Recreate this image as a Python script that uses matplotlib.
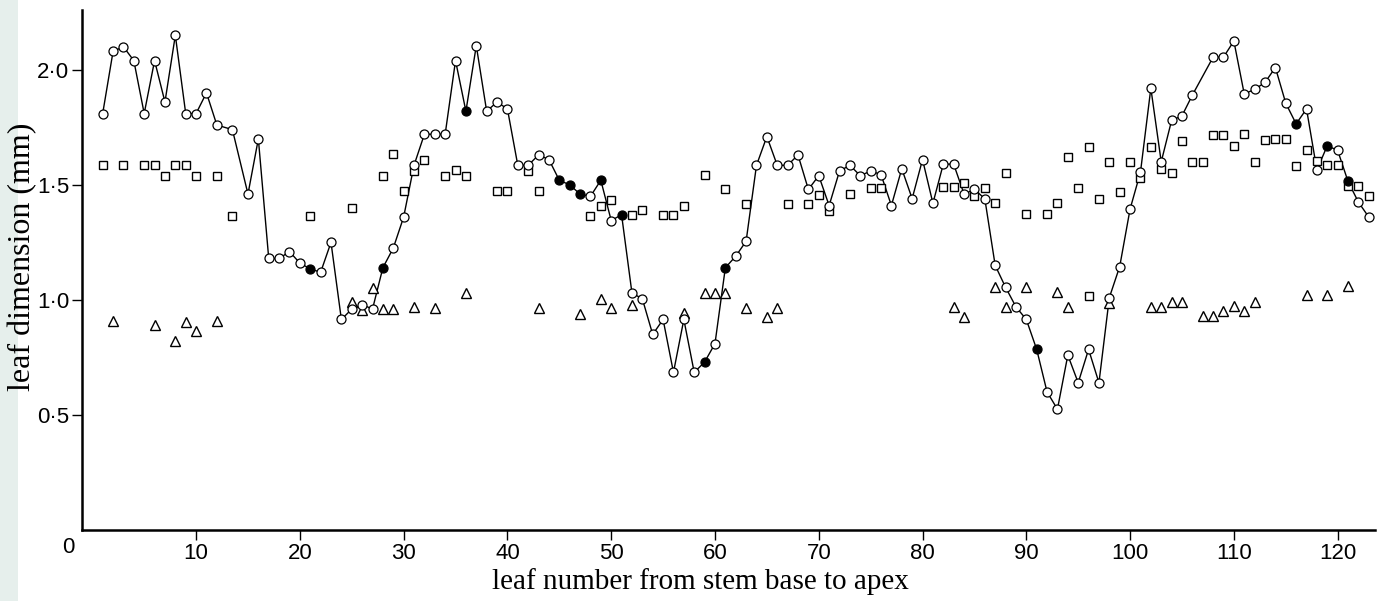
import matplotlib
matplotlib.use("Agg")
import matplotlib.pyplot as plt
import numpy as np

# leaf numbers and dimensions
circle_x = [1, 2, 3, 4, 5, 6, 7, 8, 9, 10, 11, 12, 13.5, 15, 16, 17, 18, 19, 20, 21,
            22, 23, 24, 25, 26, 27, 28, 29, 30, 31, 32, 33, 34, 35, 36, 37, 38, 39, 40,
            41, 42, 43, 44, 45, 46, 47, 48, 49, 50, 51, 52, 53, 54, 55, 56, 57, 58, 59,
            60, 61, 62, 63, 64, 65, 66, 67, 68, 69, 70, 71, 72, 73, 74, 75, 76, 77, 78,
            79, 80, 81, 82, 83, 84, 85, 86, 87, 88, 89, 90, 91, 92, 93, 94, 95, 96, 97,
            98, 99, 100, 101, 102, 103, 104, 105, 106, 108, 109, 110, 111, 112, 113,
            114, 115, 116, 117, 118, 119, 120, 121, 122, 123]
circle_y = [1.81, 2.08, 2.10, 2.04, 1.81, 2.04, 1.86, 2.15, 1.81, 1.81, 1.90, 1.76, 1.74,
            1.46, 1.70, 1.18, 1.18, 1.21, 1.16, 1.135, 1.12, 1.25, 0.915, 0.96, 0.98,
            0.96, 1.14, 1.225, 1.36, 1.585, 1.72, 1.72, 1.72, 2.04, 1.82, 2.105, 1.82,
            1.86, 1.83, 1.585, 1.585, 1.63, 1.61, 1.52, 1.50, 1.46, 1.45, 1.52, 1.345,
            1.37, 1.03, 1.005, 0.85, 0.915, 0.685, 0.915, 0.685, 0.73, 0.81, 1.14, 1.19,
            1.255, 1.585, 1.71, 1.585, 1.585, 1.63, 1.48, 1.54, 1.41, 1.56, 1.585, 1.54,
            1.56, 1.545, 1.41, 1.57, 1.44, 1.61, 1.42, 1.59, 1.59, 1.46, 1.48, 1.44,
            1.15, 1.055, 0.97, 0.915, 0.785, 0.60, 0.525, 0.76, 0.64, 0.785, 0.64, 1.01,
            1.145, 1.395, 1.555, 1.92, 1.60, 1.78, 1.80, 1.89, 2.055, 2.055, 2.125,
            1.895, 1.915, 1.945, 2.01, 1.855, 1.765, 1.83, 1.565, 1.67, 1.65, 1.515,
            1.425, 1.36]
filled_leaves = [21, 28, 36, 45, 46, 47, 49, 51, 59, 61, 91, 116, 119, 121]

square_x = [1, 3, 5, 6, 7, 8, 9, 10, 12, 13.5, 21, 25, 28, 29, 30, 31, 32, 34, 35, 36,
            39, 40, 42, 43, 48, 49, 50, 52, 53, 55, 56, 57, 59, 61, 63, 67, 69, 70, 71,
            73, 75, 76, 82, 83, 84, 85, 86, 87, 88, 90, 92, 93, 94, 95, 96, 96, 97, 98,
            99, 100, 101, 102, 103, 104, 105, 106, 107, 108, 109, 110, 111, 112, 113,
            114, 115, 116, 117, 118, 119, 120, 121, 122, 123]
square_y = [1.585, 1.585, 1.585, 1.585, 1.54, 1.585, 1.585, 1.54, 1.54, 1.365, 1.365,
            1.40, 1.54, 1.635, 1.475, 1.56, 1.61, 1.54, 1.565, 1.54, 1.475, 1.475, 1.56,
            1.475, 1.365, 1.41, 1.435, 1.37, 1.39, 1.37, 1.37, 1.41, 1.545, 1.48, 1.415,
            1.415, 1.415, 1.455, 1.385, 1.46, 1.485, 1.485, 1.49, 1.49, 1.51, 1.45,
            1.485, 1.42, 1.55, 1.375, 1.375, 1.42, 1.62, 1.485, 1.665, 1.015, 1.44,
            1.60, 1.47, 1.60, 1.53, 1.665, 1.57, 1.55, 1.69, 1.60, 1.60, 1.715, 1.715,
            1.67, 1.72, 1.60, 1.695, 1.70, 1.70, 1.58, 1.65, 1.605, 1.585, 1.585, 1.495,
            1.495, 1.45]

triangle_x = [2, 6, 8, 9, 10, 12, 25, 26, 27, 28, 29, 31, 33, 36, 43, 47, 49, 50, 52,
              57, 59, 60, 61, 63, 65, 66, 83, 84, 87, 88, 90, 93, 94, 98, 102, 103, 104,
              105, 107, 108, 109, 110, 111, 112, 117, 119, 121]
triangle_y = [0.91, 0.89, 0.82, 0.905, 0.865, 0.91, 0.99, 0.955, 1.05, 0.96, 0.96, 0.97,
              0.965, 1.03, 0.965, 0.94, 1.005, 0.965, 0.98, 0.945, 1.03, 1.03, 1.03,
              0.965, 0.925, 0.965, 0.97, 0.925, 1.055, 0.97, 1.055, 1.035, 0.97, 0.985,
              0.97, 0.97, 0.99, 0.99, 0.93, 0.93, 0.95, 0.975, 0.95, 0.99, 1.02, 1.02,
              1.06]

x_ticks = [10, 20, 30, 40, 50, 60, 70, 80, 90, 100, 110, 120]
y_ticks = [0.5, 1.0, 1.5, 2.0]
y_ticklabels = ['0\u00b75', '1\u00b70', '1\u00b75', '2\u00b70']

tick_font = ['Liberation Sans Narrow', 'Liberation Sans', 'DejaVu Sans']
label_font = ['Liberation Serif', 'DejaVu Serif']

fig = plt.figure(figsize=(13.84, 6.01), dpi=100)
fig.patch.set_facecolor('white')
# page edge strip on the left
fig.patches.append(plt.Rectangle((0, 0), 18 / 1384, 1, transform=fig.transFigure,
                                 facecolor='#e6efec', edgecolor='none', zorder=0))

ax = fig.add_axes([0.0592, 0.1181, 0.9343, 0.8653])

ax.plot(circle_x, circle_y, color='black', lw=1.0, zorder=2)
cx = np.array(circle_x)
cy = np.array(circle_y)
filled = np.isin(cx, filled_leaves)
ax.plot(cx[~filled], cy[~filled], 'o', ms=6.5, mfc='white', mec='black', mew=0.9,
        zorder=3, ls='none')
ax.plot(cx[filled], cy[filled], 'o', ms=6.5, mfc='black', mec='black', mew=0.9,
        zorder=3, ls='none')
ax.plot(square_x, square_y, 's', ms=6.0, mfc='white', mec='black', mew=1.0,
        ls='none', zorder=2)
ax.plot(triangle_x, triangle_y, '^', ms=7.2, mfc='white', mec='black', mew=1.0,
        ls='none', zorder=2)

ax.set_xlim(-1.0, 123.6)
ax.set_ylim(0, 2.26)
ax.spines['top'].set_visible(False)
ax.spines['right'].set_visible(False)
ax.spines['left'].set_linewidth(1.8)
ax.spines['bottom'].set_linewidth(1.8)

ax.set_xticks(x_ticks)
ax.set_xticklabels([str(t) for t in x_ticks], family=tick_font, fontsize=16)
ax.set_yticks(y_ticks)
ax.set_yticklabels(y_ticklabels, family=tick_font, fontsize=16)
ax.tick_params(axis='both', direction='out', length=7, width=1.0, pad=2)

ax.text(-2.3, -0.075, '0', ha='center', va='center', family=tick_font, fontsize=16,
        transform=ax.transData, clip_on=False)

fig.text(700 / 1384, 1 - 582 / 601, 'leaf number from stem base to apex',
         ha='center', va='center', family=label_font, fontsize=21)
fig.text(23 / 1384, 1 - 257 / 601, 'leaf dimension (mm)', rotation=90,
         ha='center', va='center', family=label_font, fontsize=23)

fig.savefig('out.png', dpi=100)
